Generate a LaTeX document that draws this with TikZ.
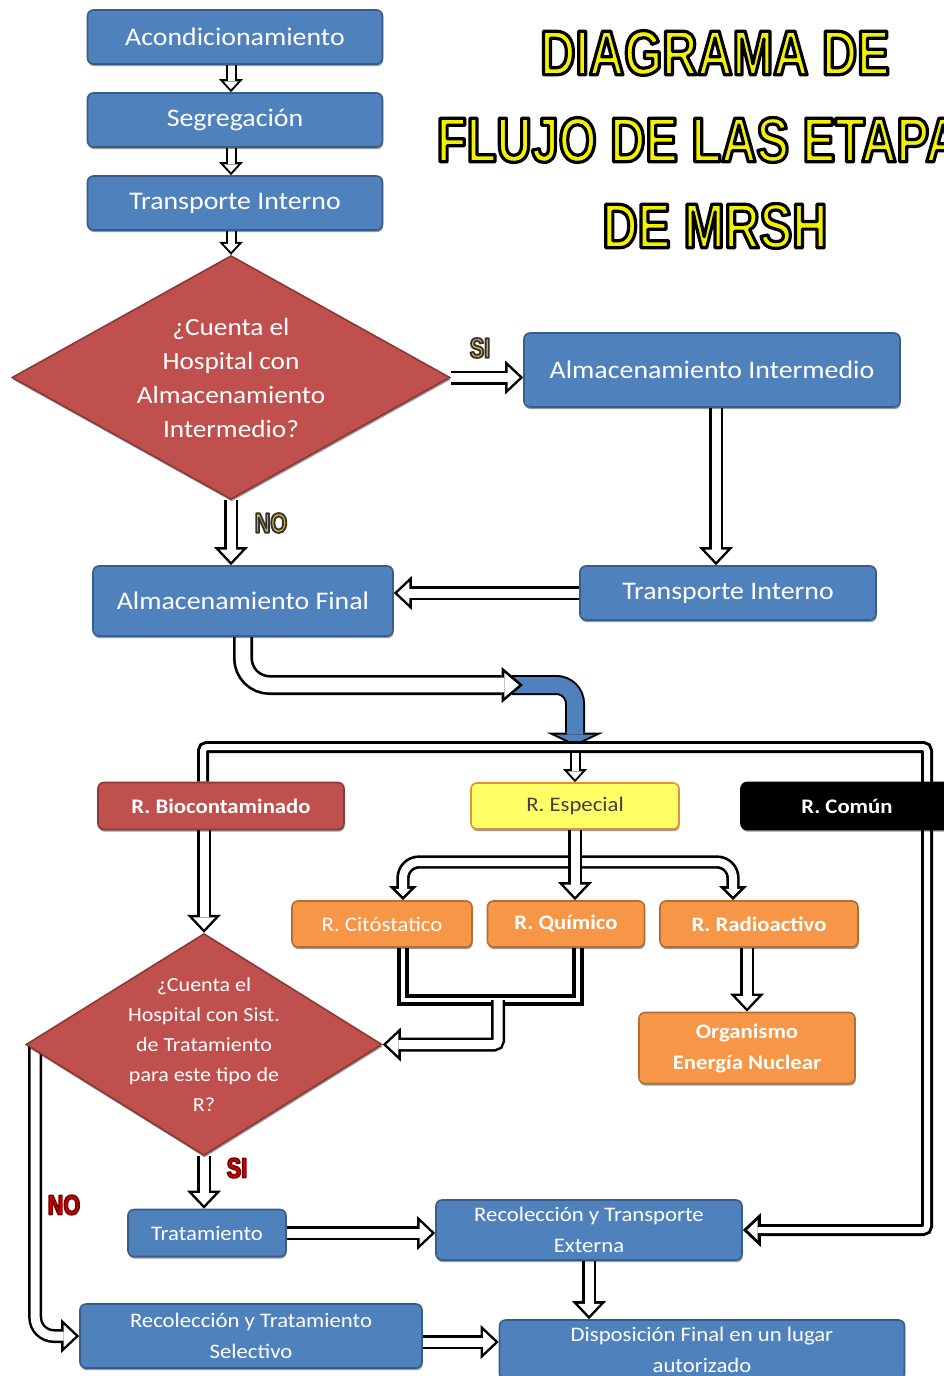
\documentclass[tikz,border=0pt]{standalone}
\usepackage{fontspec}
\setmainfont{Carlito}[FakeStretch=1.1]
\newfontfamily\ttlfont{Liberation Sans}[FakeStretch=0.77]
\usetikzlibrary{shapes.geometric,arrows.meta,shadows,calc}
\definecolor{bfill}{HTML}{4F81BD}
\definecolor{bline}{HTML}{385D8A}
\definecolor{rfill}{HTML}{C0504D}
\definecolor{rline}{HTML}{8C3836}
\definecolor{ofill}{HTML}{F79646}
\definecolor{oline}{HTML}{B66D31}
\definecolor{yfill}{HTML}{FFFF66}
\definecolor{yline}{HTML}{E3922F}
\definecolor{ttly}{HTML}{F2F200}
\definecolor{siy}{HTML}{EBB52E}
\definecolor{nored}{HTML}{E00000}
\pgfdeclarelayer{bg}
\pgfsetlayers{bg,main}
% outlined text (fill and stroke): #1 stroke width (bp), #2 stroke rgb, #3 fill colour, #4 text
\newcommand\olt[4]{{\color{#3}\special{pdf:literal direct q 2 Tr #1 w 1 j #2 RG}#4\special{pdf:literal direct Q}}}
\newcommand\conn[3][]{\draw[#2o,#1] #3; \draw[#2i,#1] #3;}
\tikzset{
 sz/.style 2 args={minimum width=#1*0.75pt, minimum height=#2*0.75pt},
 box/.style={rectangle, rounded corners=4.5pt, line width=1.2pt, inner sep=1pt, align=center, text=white,
   drop shadow={shadow xshift=0.5pt, shadow yshift=-1.6pt, opacity=0.4, fill=black}},
 bbox/.style={box, fill=bfill, draw=bline},
 rbox/.style={box, fill=rfill, draw=rline},
 obox/.style={box, fill=ofill, draw=oline},
 big/.style={font=\fontsize{19}{23}\selectfont},
 sml/.style={font=\fontsize{15.5}{23}\selectfont},
 smlb/.style={font=\fontsize{15.5}{23}\selectfont\bfseries},
 dia/.style={diamond, fill=rfill, draw=rline, line width=1.2pt, inner sep=-12pt, align=center, text=white,
   drop shadow={shadow xshift=0.5pt, shadow yshift=-1.6pt, opacity=0.4, fill=black}},
 ttlnode/.style={inner sep=0pt, font=\fontsize{47.5}{50}\selectfont\ttlfont\bfseries},
 lblnode/.style={inner sep=0pt, font=\fontsize{21}{22}\selectfont\ttlfont\bfseries},
 smo/.style={line width=8.25pt, draw=black, -{Triangle[length=9.75pt,width=18pt,line width=0pt]}},
 smi/.style={line width=5.25pt, draw=white, shorten >=2.2pt, -{Triangle[length=6pt,width=11pt,line width=0pt]}},
 mdo/.style={line width=10.5pt, draw=black, -{Triangle[length=13.5pt,width=25.5pt,line width=0pt]}},
 mdi/.style={line width=6.75pt, draw=white, shorten >=2.7pt, -{Triangle[length=8.9pt,width=16.8pt,line width=0pt]}},
 lgo/.style={line width=15pt, draw=black, rounded corners=20pt, -{Triangle[length=16pt,width=27pt,line width=0pt]}},
 lgi/.style={line width=11pt, draw=white, rounded corners=20pt, shorten >=3.1pt, -{Triangle[length=10.9pt,width=18.4pt,line width=0pt]}},
 blo/.style={line width=15pt, draw=black, rounded corners=14pt, -{Triangle[length=10pt,width=42pt,line width=0pt]}},
 bli/.style={line width=12pt, draw=bfill, rounded corners=14pt, shorten >=1.7pt, -{Triangle[length=6.8pt,width=28.6pt,line width=0pt]}},
 bao/.style={line width=9pt, draw=black, rounded corners=3pt, -{Triangle[length=13.5pt,width=25.5pt,line width=0pt]}},
 bai/.style={line width=4.5pt, draw=white, rounded corners=3pt, shorten >=3.3pt, -{Triangle[length=7.9pt,width=15pt,line width=0pt]}},
 brao/.style={line width=10pt, draw=black, rounded corners=12pt, -{Triangle[length=10.5pt,width=21pt,line width=0pt]}},
 brai/.style={line width=6pt, draw=white, rounded corners=12pt, shorten >=2.8pt, -{Triangle[length=5.7pt,width=11.3pt,line width=0pt]}},
 jo/.style={line width=9pt, draw=black},
 ji/.style={line width=3pt, draw=white},
}
\begin{document}
\begin{tikzpicture}[x=0.75pt, y=-0.75pt]
\useasboundingbox (0,0) rectangle (943,1376);
\begin{pgfonlayer}{bg}
\fill[white] (0,0) rectangle (943,1376);
\end{pgfonlayer}

% title
\node[ttlnode] (t1) at (715,53) {\olt{2.4}{0 0 0}{ttly}{DIAGRAMA DE}};
\node[ttlnode] (t2) at (715,140) {\olt{2.4}{0 0 0}{ttly}{FLUJO DE LAS ETAPAS}};
\node[ttlnode] (t3) at (715,226) {\olt{2.4}{0 0 0}{ttly}{DE MRSH}};

% upper part
\node[bbox, big, sz={295}{54}] (acon) at (235,37) {Acondicionamiento};
\node[bbox, big, sz={295}{54}] (seg) at (235,120) {Segregación};
\node[bbox, big, sz={295}{54}] (ti1) at (235,203) {Transporte Interno};
\node[dia, sz={438}{229}, font=\fontsize{18.6}{25.5}\selectfont] (dia1) at (231,377.5)
  {¿Cuenta el\\Hospital con\\Almacenamiento\\Intermedio?};
\node[bbox, big, sz={376}{74}] (almi) at (712,370) {Almacenamiento Intermedio};
\node[bbox, big, sz={296}{54}] (ti2) at (728,593) {Transporte Interno};
\node[bbox, big, sz={300}{70}] (almf) at (243,601) {Almacenamiento Final};

% lower part
\node[rbox, smlb, sz={246}{47}] (bio) at (221,806) {R. Biocontaminado};
\node[box, fill=yfill, draw=yline, text=black!75, sml, sz={208}{46}] (esp) at (575,806) {R. Especial};
\node[box, fill=black, draw=black, smlb, sz={212}{47}] (comun) at (847,806) {R. Común};
\node[obox, sml, sz={180}{46}] (cito) at (382,924) {R. Citóstatico};
\node[obox, smlb, sz={157}{46}] (quim) at (566,924) {R. Químico};
\node[obox, smlb, sz={198}{46}] (radio) at (759,924) {R. Radioactivo};
\node[obox, smlb, sz={216}{71}, font=\fontsize{15.5}{23.25}\selectfont\bfseries] (org) at (747,1048) {Organismo\\Energía Nuclear};
\node[dia, sz={356}{195}, font=\fontsize{15}{22.5}\selectfont] (dia2) at (204,1044.5)
  {¿Cuenta el\\Hospital con Sist.\\de Tratamiento\\para este tipo de\\R?};
\node[bbox, sml, sz={158}{47}] (trat) at (207,1233) {Tratamiento};
\node[bbox, sml, sz={306}{60}] (rte) at (589,1230) {Recolección y Transporte\\Externa};
\node[bbox, sml, sz={342}{64}] (rts) at (251,1336) {Recolección y Tratamiento\\Selectivo};
\node[bbox, sml, sz={405}{60}] (disp) at (702,1350) {Disposición Final en un lugar\\autorizado};

% labels
\node[lblnode] (si1) at (480,348) {\olt{1.4}{0.2 0.2 0.2}{siy}{SI}};
\node[lblnode] (no1) at (271,523) {\olt{1.4}{0.2 0.2 0.2}{siy}{NO}};
\node[lblnode] (si2) at (237,1168) {\olt{1.2}{0.45 0 0}{nored}{SI}};
\node[lblnode] (no2) at (64,1205) {\olt{1.2}{0.45 0 0}{nored}{NO}};

% helper coordinates
\coordinate (a1) at ([xshift=3pt]almi.south);
\coordinate (bt) at (523,685);
\coordinate (bs) at (512,685);
\coordinate (bar) at (575,746);
\coordinate (bl) at ([xshift=-13.5pt]bio.north);
\coordinate (rc) at (927,747);
\coordinate (bb) at (575,753);
\coordinate (br) at (575,862);
\coordinate (cl) at ([xshift=15.75pt]cito.north);
\coordinate (rr) at ([xshift=-19.5pt]radio.north);
\coordinate (c1) at ([xshift=15.75pt]cito.south);
\coordinate (q1) at ([xshift=9pt]quim.south);
\coordinate (jl) at (403,1000);
\coordinate (jr) at (578,1000);
\coordinate (jn) at (498,1000);
\coordinate (r1) at (org.north |- radio.south);
\coordinate (b1) at (dia2.north |- bio.south);
\coordinate (p) at ([yshift=-4.5pt]rts.east);
\coordinate (n0) at ([xshift=7.5pt]dia2.west);

\begin{pgfonlayer}{bg}
\conn{sm}{([xshift=-3pt]acon.south) -- ([xshift=-3pt]seg.north)}
\conn{sm}{([xshift=-3pt]seg.south) -- ([xshift=-3pt]ti1.north)}
\conn{sm}{([xshift=-3pt]ti1.south) -- (dia1.north)}
\conn{md}{(dia1.east) -- (dia1.east -| almi.west)}
\conn{md}{(dia1.south) -- (dia1.south |- almf.north)}
\conn{md}{(a1) -- (a1 |- ti2.north)}
\conn{md}{(ti2.west) -- (ti2.west -| almf.east)}
\conn{bl}{(bs) -| (bar)}
\conn{lg}{(almf.south) |- (bt)}
\conn{ba}{(bl) |- (rc) |- (rte.east)}
\conn{sm}{(bb) -- (esp.north)}
\conn{bra}{(br) -| (cl)}
\conn{bra}{(br) -| (rr)}
\conn{md}{(esp.south) -- (esp.south |- quim.north)}
\conn{j}{(c1) -- (jl) -- (jr) -- (q1)}
\conn[rounded corners=3pt]{md}{(jn) |- (dia2.east)}
\conn{md}{(r1) -- (org.north)}
\conn{md}{(b1) -- (dia2.north)}
\conn{md}{(dia2.south) -- (dia2.south |- trat.north)}
\conn{md}{(trat.east) -- (trat.east -| rte.west)}
\conn{md}{(rte.south) -- (rte.south |- disp.north)}
\conn{md}{(p) -- (p -| disp.west)}
\conn[rounded corners=14pt]{md}{(n0) |- (rts.west)}
\end{pgfonlayer}
\end{tikzpicture}
\end{document}
